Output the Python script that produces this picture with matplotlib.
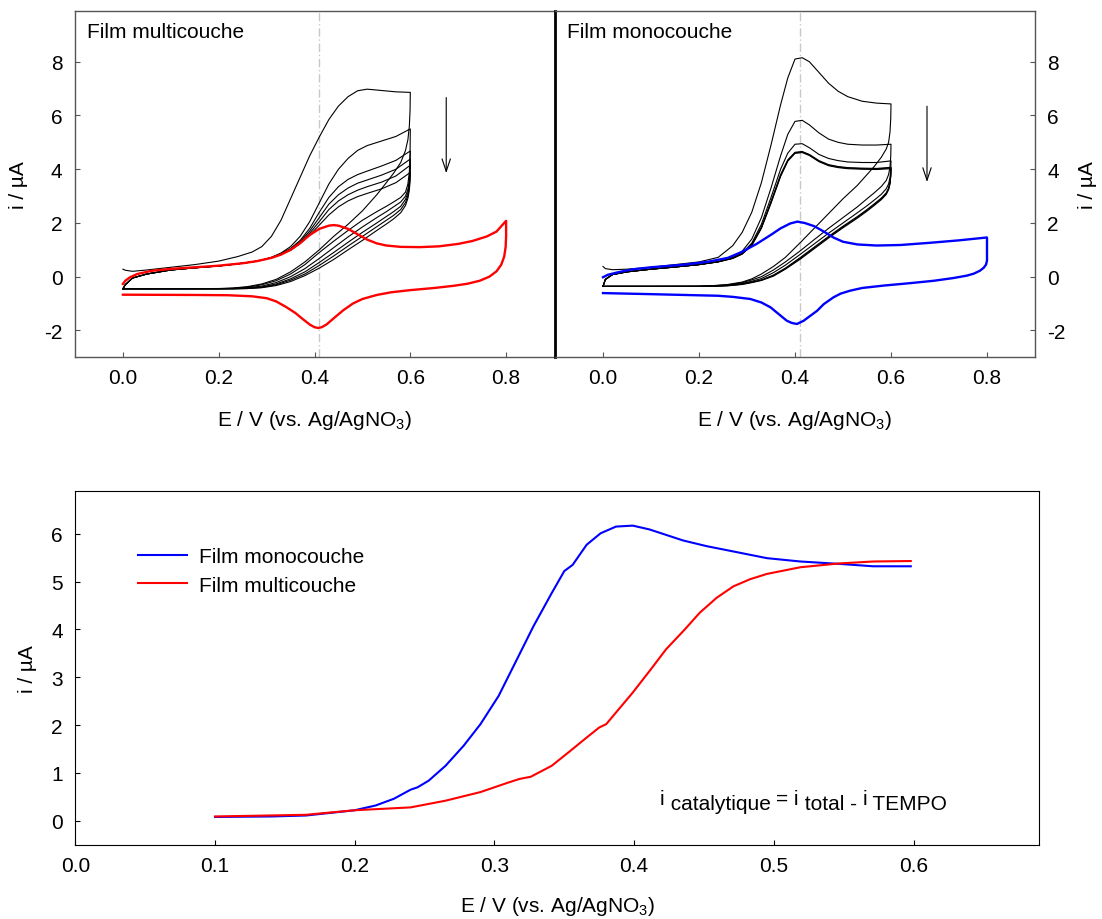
import numpy as np
import matplotlib
matplotlib.use('Agg')
import matplotlib.pyplot as plt

plt.rcParams['font.family'] = ['Liberation Sans', 'DejaVu Sans']
plt.rcParams['mathtext.fontset'] = 'custom'
plt.rcParams['mathtext.rm'] = 'Liberation Sans'
plt.rcParams['mathtext.it'] = 'Liberation Sans:italic'
plt.rcParams['font.size'] = 15
plt.rcParams['axes.unicode_minus'] = False

# ---------------- multicouche film (top left) ----------------
multi_fwd_E = [0.0, 0.005, 0.02, 0.05, 0.1, 0.15, 0.2, 0.24, 0.27, 0.29, 0.31, 0.33,
               0.35, 0.37, 0.39, 0.41, 0.43, 0.45, 0.47, 0.49, 0.51, 0.54, 0.57, 0.6]
multi_fwd_I = [
    [0.28, 0.24, 0.2, 0.25, 0.35, 0.45, 0.58, 0.75, 0.92, 1.12, 1.5, 2.1, 2.9, 3.7, 4.5, 5.2, 5.85, 6.35, 6.7, 6.92, 6.98, 6.93, 6.88, 6.86],
    [-0.45, -0.3, -0.05, 0.1, 0.25, 0.33, 0.4, 0.48, 0.55, 0.62, 0.72, 0.88, 1.12, 1.5, 2.05, 2.75, 3.45, 4.0, 4.4, 4.7, 4.88, 5.05, 5.22, 5.5],
    [-0.45, -0.3, -0.05, 0.1, 0.25, 0.33, 0.4, 0.48, 0.55, 0.62, 0.71, 0.86, 1.05, 1.35, 1.8, 2.4, 2.95, 3.35, 3.62, 3.8, 3.93, 4.12, 4.33, 4.68],
    [-0.45, -0.3, -0.05, 0.1, 0.25, 0.33, 0.4, 0.48, 0.55, 0.62, 0.71, 0.85, 1.02, 1.3, 1.7, 2.2, 2.7, 3.05, 3.3, 3.48, 3.6, 3.78, 4.0, 4.38],
    [-0.45, -0.3, -0.05, 0.1, 0.25, 0.33, 0.4, 0.48, 0.55, 0.62, 0.71, 0.85, 1.0, 1.27, 1.62, 2.05, 2.5, 2.82, 3.05, 3.22, 3.35, 3.52, 3.75, 4.15],
    [-0.45, -0.3, -0.05, 0.1, 0.25, 0.33, 0.4, 0.48, 0.55, 0.62, 0.7, 0.84, 0.98, 1.23, 1.55, 1.92, 2.3, 2.6, 2.82, 2.98, 3.1, 3.27, 3.5, 3.88],
]
multi_rev_E = [0.6, 0.5995, 0.598, 0.595, 0.59, 0.58, 0.565, 0.55, 0.53, 0.5, 0.47,
               0.44, 0.41, 0.38, 0.35, 0.32, 0.29, 0.26, 0.23, 0.2, 0.1, 0.0]
multi_rev_I = [
    [6.86, 6.2, 5.6, 5.1, 4.7, 4.25, 3.85, 3.5, 3.05, 2.45, 1.95, 1.5, 1.0, 0.55, 0.18, -0.1, -0.27, -0.37, -0.42, -0.44, -0.45, -0.45],
    [5.5, 4.6, 3.9, 3.45, 3.15, 2.95, 2.78, 2.62, 2.42, 2.1, 1.72, 1.32, 0.9, 0.45, 0.1, -0.15, -0.3, -0.39, -0.43, -0.45, -0.45, -0.45],
    [4.68, 4.1, 3.6, 3.25, 3.0, 2.78, 2.6, 2.42, 2.2, 1.85, 1.48, 1.08, 0.68, 0.3, 0.0, -0.22, -0.35, -0.41, -0.44, -0.45, -0.45, -0.45],
    [4.38, 3.9, 3.45, 3.12, 2.88, 2.62, 2.42, 2.24, 2.0, 1.65, 1.28, 0.9, 0.53, 0.18, -0.08, -0.27, -0.38, -0.43, -0.45, -0.45, -0.45, -0.45],
    [4.15, 3.75, 3.35, 3.02, 2.76, 2.5, 2.28, 2.1, 1.86, 1.5, 1.14, 0.77, 0.42, 0.1, -0.13, -0.3, -0.4, -0.44, -0.45, -0.45, -0.45, -0.45],
    [3.88, 3.55, 3.22, 2.92, 2.65, 2.38, 2.15, 1.96, 1.72, 1.35, 1.0, 0.64, 0.32, 0.04, -0.18, -0.33, -0.41, -0.44, -0.45, -0.45, -0.45, -0.45],
]
multi_tempo_E = [0.0, 0.005, 0.015, 0.03, 0.06, 0.1, 0.15, 0.2, 0.25, 0.28, 0.31, 0.33,
                 0.35, 0.37, 0.39, 0.41, 0.43, 0.44, 0.45, 0.47, 0.49, 0.51, 0.53, 0.55,
                 0.58, 0.62, 0.66, 0.7, 0.73, 0.76, 0.78, 0.8,
                 0.8, 0.799, 0.796, 0.79, 0.78, 0.765, 0.745, 0.72, 0.69, 0.65, 0.6, 0.56,
                 0.53, 0.5, 0.48, 0.46, 0.44, 0.425, 0.415, 0.408, 0.4, 0.39, 0.375, 0.36,
                 0.34, 0.32, 0.3, 0.27, 0.22, 0.15, 0.0]
multi_tempo_I = [-0.27, -0.15, -0.02, 0.1, 0.22, 0.29, 0.35, 0.41, 0.5, 0.58, 0.7, 0.82,
                 1.0, 1.25, 1.55, 1.78, 1.9, 1.92, 1.9, 1.78, 1.58, 1.38, 1.24, 1.16,
                 1.11, 1.1, 1.13, 1.22, 1.33, 1.5, 1.68, 2.08,
                 1.5, 1.1, 0.75, 0.45, 0.2, 0.0, -0.15, -0.26, -0.34, -0.42, -0.5, -0.58,
                 -0.68, -0.83, -1.0, -1.25, -1.55, -1.78, -1.88, -1.91, -1.88, -1.78, -1.57, -1.35,
                 -1.12, -0.92, -0.8, -0.73, -0.69, -0.68, -0.67]

# ---------------- monocouche film (top right) ----------------
mono_fwd_E = [0.0, 0.005, 0.02, 0.05, 0.1, 0.15, 0.2, 0.24, 0.27, 0.29, 0.31, 0.33,
              0.35, 0.37, 0.385, 0.40, 0.415, 0.43, 0.45, 0.47, 0.49, 0.51, 0.54, 0.57, 0.6]
mono_fwd_I = [
    [0.38, 0.3, 0.26, 0.28, 0.35, 0.45, 0.55, 0.72, 1.15, 1.65, 2.4, 3.5, 4.9, 6.4, 7.4, 8.1, 8.15, 8.0, 7.6, 7.2, 6.9, 6.7, 6.53, 6.46, 6.43],
    [-0.36, -0.1, 0.08, 0.18, 0.28, 0.36, 0.45, 0.56, 0.72, 0.95, 1.4, 2.2, 3.3, 4.5, 5.3, 5.78, 5.82, 5.65, 5.35, 5.12, 5.0, 4.93, 4.9, 4.9, 4.93],
    [-0.36, -0.1, 0.08, 0.18, 0.28, 0.36, 0.45, 0.56, 0.7, 0.88, 1.25, 1.95, 2.95, 4.0, 4.6, 4.93, 4.95, 4.8, 4.55, 4.4, 4.32, 4.27, 4.25, 4.25, 4.31],
    [-0.36, -0.1, 0.08, 0.18, 0.28, 0.36, 0.45, 0.56, 0.69, 0.86, 1.2, 1.85, 2.8, 3.8, 4.35, 4.63, 4.66, 4.55, 4.32, 4.17, 4.1, 4.06, 4.04, 4.03, 4.07],
    [-0.36, -0.1, 0.08, 0.18, 0.28, 0.36, 0.45, 0.55, 0.68, 0.85, 1.18, 1.82, 2.76, 3.76, 4.32, 4.61, 4.64, 4.53, 4.3, 4.15, 4.08, 4.04, 4.02, 4.01, 4.05],
    [-0.36, -0.1, 0.08, 0.18, 0.28, 0.36, 0.45, 0.55, 0.68, 0.84, 1.16, 1.8, 2.73, 3.73, 4.3, 4.59, 4.62, 4.51, 4.28, 4.13, 4.06, 4.02, 4.0, 3.99, 4.02],
]
mono_rev_E = [0.6, 0.5995, 0.598, 0.595, 0.59, 0.58, 0.565, 0.55, 0.53, 0.5, 0.47, 0.44,
              0.41, 0.38, 0.355, 0.33, 0.31, 0.29, 0.26, 0.23, 0.2, 0.1, 0.0]
mono_rev_I = [
    [6.43, 5.9, 5.4, 5.0, 4.75, 4.45, 4.1, 3.8, 3.4, 2.9, 2.35, 1.8, 1.25, 0.72, 0.38, 0.1, -0.08, -0.2, -0.29, -0.33, -0.35, -0.36, -0.36],
    [4.93, 4.5, 4.1, 3.8, 3.58, 3.36, 3.12, 2.9, 2.6, 2.2, 1.8, 1.38, 0.95, 0.55, 0.25, 0.0, -0.12, -0.22, -0.3, -0.34, -0.36, -0.36, -0.36],
    [4.31, 4.0, 3.7, 3.45, 3.27, 3.07, 2.85, 2.64, 2.38, 2.0, 1.62, 1.22, 0.82, 0.43, 0.15, -0.07, -0.17, -0.25, -0.32, -0.35, -0.36, -0.36, -0.36],
    [4.07, 3.8, 3.52, 3.3, 3.12, 2.93, 2.71, 2.5, 2.24, 1.88, 1.5, 1.1, 0.7, 0.32, 0.06, -0.12, -0.2, -0.27, -0.33, -0.35, -0.36, -0.36, -0.36],
    [4.05, 3.77, 3.49, 3.27, 3.09, 2.9, 2.68, 2.47, 2.21, 1.85, 1.47, 1.07, 0.67, 0.3, 0.04, -0.13, -0.21, -0.28, -0.33, -0.35, -0.36, -0.36, -0.36],
    [4.02, 3.74, 3.46, 3.24, 3.06, 2.87, 2.65, 2.44, 2.18, 1.82, 1.44, 1.04, 0.64, 0.28, 0.02, -0.14, -0.22, -0.29, -0.34, -0.36, -0.36, -0.36, -0.36],
]
mono_tempo_E = [0.0, 0.01, 0.03, 0.06, 0.1, 0.17, 0.22, 0.26, 0.29, 0.32, 0.35, 0.37,
                0.39, 0.405, 0.42, 0.44, 0.46, 0.48, 0.5, 0.53, 0.57, 0.62, 0.68, 0.74, 0.8,
                0.8, 0.798, 0.793, 0.785, 0.772, 0.758, 0.73, 0.69, 0.64, 0.585, 0.54, 0.515,
                0.495, 0.48, 0.46, 0.446, 0.43, 0.418, 0.404, 0.393, 0.383, 0.37, 0.349,
                0.33, 0.307, 0.27, 0.24, 0.1, 0.0]
mono_tempo_I = [-0.02, 0.07, 0.16, 0.27, 0.35, 0.45, 0.56, 0.7, 0.93, 1.22, 1.56, 1.8,
                1.98, 2.05, 2.0, 1.88, 1.68, 1.46, 1.3, 1.2, 1.16, 1.18, 1.26, 1.35, 1.46,
                0.6, 0.45, 0.33, 0.22, 0.11, 0.04, -0.05, -0.15, -0.24, -0.33, -0.42, -0.52,
                -0.63, -0.77, -1.02, -1.27, -1.48, -1.64, -1.76, -1.72, -1.64, -1.45, -1.14,
                -0.96, -0.83, -0.75, -0.71, -0.65, -0.61]

# ---------------- catalytic current (bottom) ----------------
cat_mono_E = [0.1, 0.14, 0.165, 0.2, 0.215, 0.228, 0.24, 0.245, 0.253, 0.265, 0.278, 0.29,
              0.303, 0.315, 0.328, 0.341, 0.35, 0.356, 0.366, 0.376, 0.387, 0.399, 0.411,
              0.435, 0.452, 0.471, 0.495, 0.519, 0.547, 0.571, 0.598]
cat_mono_I = [0.08, 0.09, 0.11, 0.22, 0.32, 0.46, 0.65, 0.70, 0.84, 1.15, 1.57, 2.02,
              2.61, 3.31, 4.07, 4.76, 5.22, 5.35, 5.77, 6.01, 6.15, 6.17, 6.09,
              5.86, 5.74, 5.63, 5.49, 5.42, 5.37, 5.32, 5.32]
cat_multi_E = [0.1, 0.165, 0.2, 0.24, 0.265, 0.29, 0.31, 0.318, 0.326, 0.341, 0.353, 0.366,
               0.375, 0.38, 0.399, 0.411, 0.423, 0.435, 0.447, 0.459, 0.471, 0.483, 0.495,
               0.519, 0.547, 0.571, 0.598]
cat_multi_I = [0.09, 0.125, 0.22, 0.28, 0.42, 0.6, 0.8, 0.875, 0.92, 1.15, 1.43, 1.74,
               1.95, 2.02, 2.68, 3.13, 3.59, 3.96, 4.35, 4.66, 4.9, 5.05, 5.16,
               5.3, 5.38, 5.42, 5.43]

E_PEAK = 0.41
ARROW_E = 0.675
multi_arrow = (6.77, 3.75)
mono_arrow = (6.45, 3.42)

xlab = 'E / V (vs. Ag/AgNO$_3$)'
ylab = 'i / µA'
frame = '#555555'

fig = plt.figure(figsize=(11.02, 9.2), dpi=100)
W, H = 1102.0, 920.0
ax1 = fig.add_axes([75 / W, 1 - 358.3 / H, 479 / W, 346.6 / H])
ax2 = fig.add_axes([555 / W, 1 - 358.3 / H, 480 / W, 346.6 / H])
ax3 = fig.add_axes([75.3 / W, 1 - 845.7 / H, 964 / W, 354 / H])


def cv_panel(ax, fwd_E, fwd_I, rev_E, rev_I, tE, tI, tcol, title, arrow):
    ax.axvline(E_PEAK, color='#c8c8c8', lw=1, ls=(0, (6, 2, 1, 2)), zorder=0)
    for f, r in zip(fwd_I, rev_I):
        ax.plot(fwd_E + rev_E, f + r, color='black', lw=0.8)
    ax.plot(tE, tI, color=tcol, lw=1.7)
    ax.annotate('', xy=(ARROW_E, arrow[1]), xytext=(ARROW_E, arrow[0]),
                arrowprops=dict(arrowstyle='->,head_length=0.6,head_width=0.2',
                                color='black', lw=0.8))
    ax.set_xlim(-0.1, 0.9)
    ax.set_ylim(-3, 9.9)
    ax.set_xticks([0.0, 0.2, 0.4, 0.6, 0.8])
    ax.set_yticks([-2, 0, 2, 4, 6, 8])
    ax.xaxis.set_major_formatter(plt.FormatStrFormatter('%.1f'))
    ax.tick_params(direction='in', length=3.5, width=0.8, color=frame, labelsize=15)
    ax.tick_params(axis='x', pad=8)
    ax.tick_params(axis='y', pad=9)
    ax.text(0.025, 0.94, title, transform=ax.transAxes, fontsize=15, va='center')
    ax.set_xlabel(xlab, fontsize=15)
    ax.xaxis.set_label_coords(0.5, -0.146)
    for s in ax.spines.values():
        s.set_color(frame)
        s.set_linewidth(1)


cv_panel(ax1, multi_fwd_E, multi_fwd_I, multi_rev_E, multi_rev_I,
         multi_tempo_E, multi_tempo_I, 'red', 'Film multicouche', multi_arrow)
cv_panel(ax2, mono_fwd_E, mono_fwd_I, mono_rev_E, mono_rev_I,
         mono_tempo_E, mono_tempo_I, 'blue', 'Film monocouche', mono_arrow)

ax1.set_ylabel(ylab, fontsize=15)
ax1.yaxis.set_label_coords(-0.098, 0.5)
ax1.spines['right'].set_visible(False)

ax2.yaxis.tick_right()
ax2.yaxis.set_label_position('right')
ax2.set_ylabel(ylab, fontsize=15)
ax2.yaxis.set_label_coords(1.09, 0.5)
ax2.spines['left'].set_color('black')
ax2.spines['left'].set_linewidth(2)

# bottom panel
ax3.plot(cat_mono_E, cat_mono_I, color='blue', lw=1.5, label='Film monocouche')
ax3.plot(cat_multi_E, cat_multi_I, color='red', lw=1.5, label='Film multicouche')
ax3.set_xlim(0, 0.69)
ax3.set_ylim(-0.5, 6.9)
ax3.set_xticks([0.0, 0.1, 0.2, 0.3, 0.4, 0.5, 0.6])
ax3.set_yticks([0, 1, 2, 3, 4, 5, 6])
ax3.xaxis.set_major_formatter(plt.FormatStrFormatter('%.1f'))
ax3.tick_params(direction='in', length=3.5, width=0.8, labelsize=15)
ax3.tick_params(axis='x', pad=8)
ax3.tick_params(axis='y', pad=9)
ax3.set_xlabel(xlab, fontsize=15)
ax3.xaxis.set_label_coords(0.5, -0.138)
ax3.set_ylabel(ylab, fontsize=15)
ax3.yaxis.set_label_coords(-0.040, 0.5)
ax3.legend(loc='upper left', bbox_to_anchor=(0.065, 0.84), frameon=False,
           borderpad=0, borderaxespad=0, handlelength=2.35, handletextpad=0.6,
           labelspacing=0.45, fontsize=15)

# i_catalytique = i_total - i_TEMPO, subscripts at full size
pieces = [('i', 0.115), (' catalytique ', 0.101), ('= i', 0.115), (' total - ', 0.101),
          ('i', 0.115), (' TEMPO', 0.101)]
prev = None
for s, yb in pieces:
    if prev is None:
        prev = ax3.text(0.6065, yb, s, transform=ax3.transAxes, fontsize=15,
                        va='baseline', ha='left')
    else:
        prev = ax3.annotate(s, xy=(1, yb), xycoords=(prev, 'axes fraction'),
                            fontsize=15, va='baseline', ha='left')

fig.savefig('out.png', dpi=100)
